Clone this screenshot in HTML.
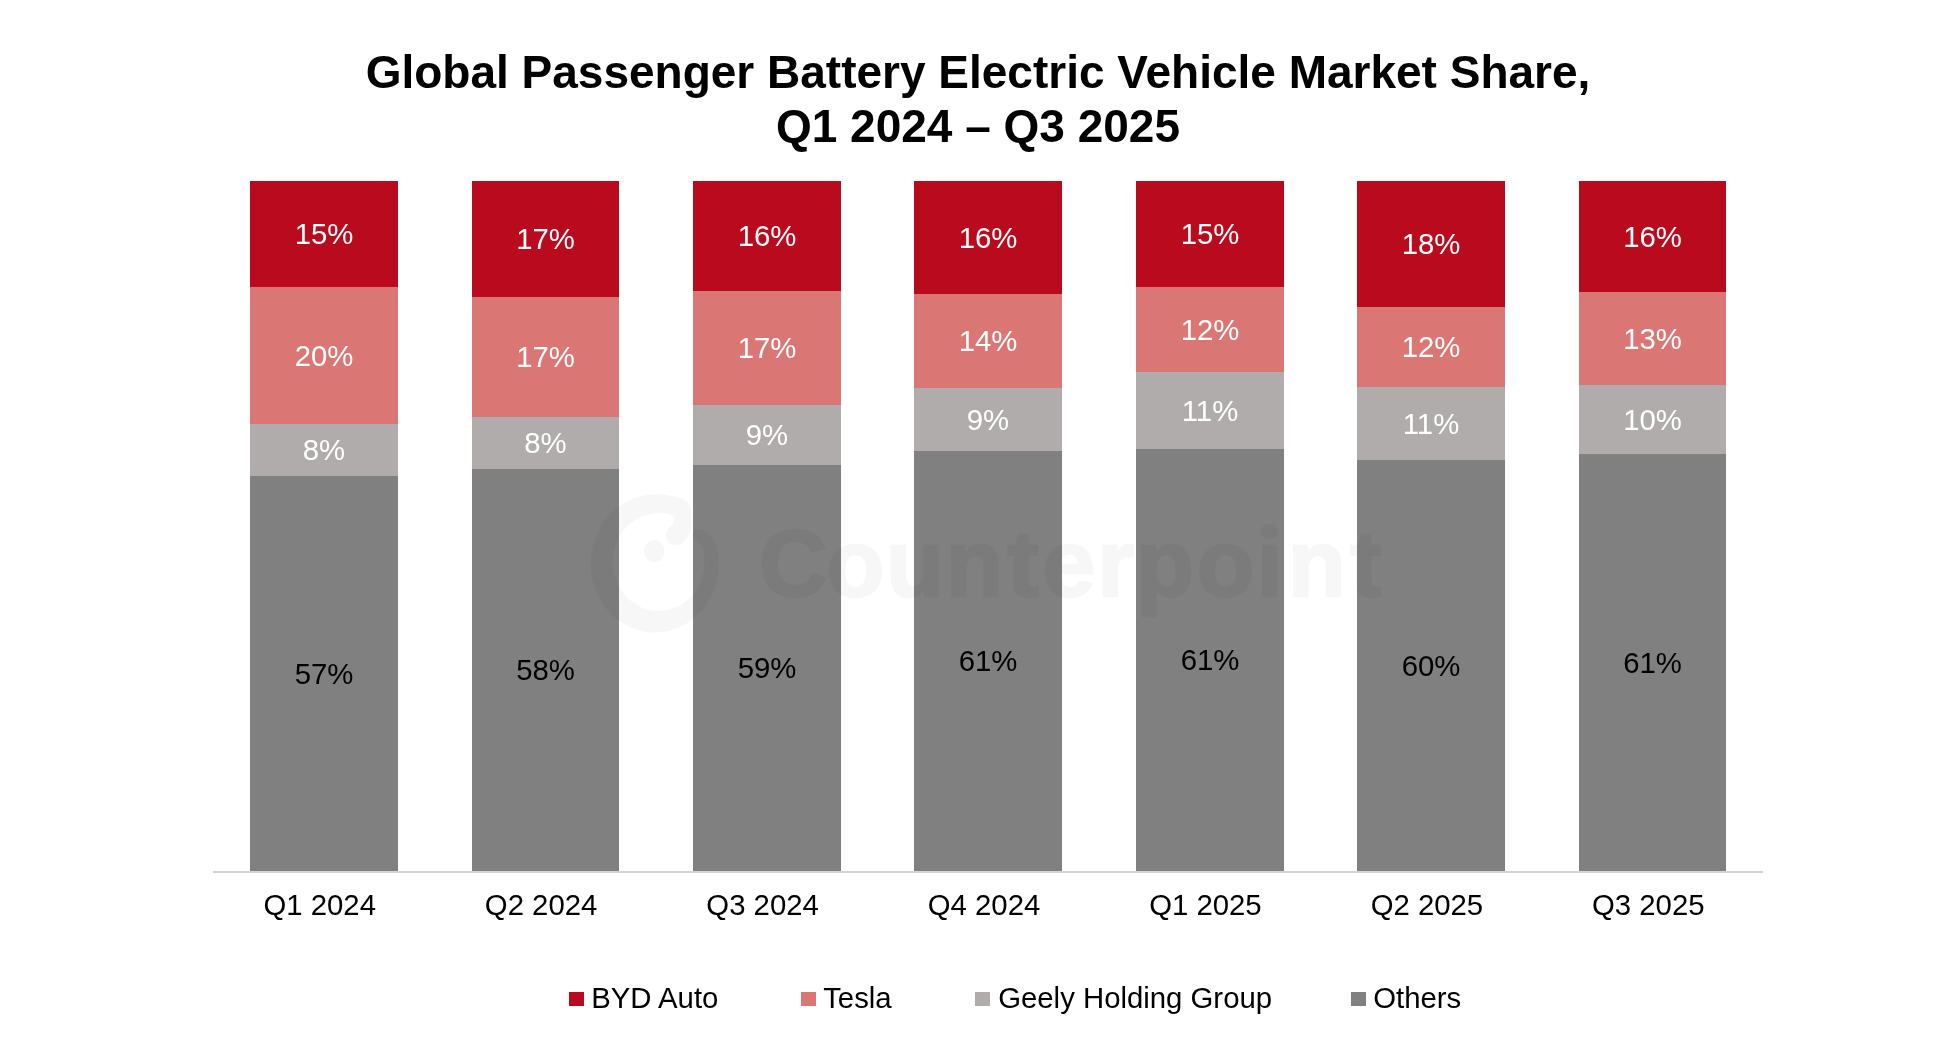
<!DOCTYPE html>
<html><head><meta charset="utf-8"><style>
html,body{margin:0;padding:0;background:#fff;}
.g{position:absolute;left:0;top:0;width:1946px;height:1052px;will-change:transform;}
body{width:1946px;height:1052px;position:relative;overflow:hidden;font-family:"Liberation Sans",Arial,sans-serif;}
.t{position:absolute;left:0;width:1956px;text-align:center;font-weight:bold;font-size:46px;line-height:1;color:#000;white-space:nowrap;}
.s{position:absolute;display:flex;align-items:center;justify-content:center;font-size:29.33px;line-height:1;}
.c{position:absolute;top:890px;width:200px;text-align:center;font-size:29.33px;line-height:1;color:#000;}
.ax{position:absolute;left:213px;top:871px;width:1550px;height:2px;background:#D5D5D5;}
.lg{position:absolute;top:982.8px;font-size:29.33px;line-height:1;color:#000;white-space:nowrap;}
.mk{position:absolute;top:992px;width:15px;height:14px;}
.wm{position:absolute;left:0;top:0;}
</style></head><body><div class="g">
<div class="t" style="top:48.5px">Global Passenger Battery Electric Vehicle Market Share,</div>
<div class="t" style="top:103.3px">Q1 2024 &#8211; Q3 2025</div>
<div class="s" style="left:250px;top:181px;width:148px;height:106px;background:#BA0A1E;color:#fff"><span>15%</span></div><div class="s" style="left:250px;top:287px;width:148px;height:137px;background:#DA7674;color:#fff"><span>20%</span></div><div class="s" style="left:250px;top:424px;width:148px;height:52px;background:#AFACAB;color:#fff"><span>8%</span></div><div class="s" style="left:250px;top:476px;width:148px;height:395px;background:#808080;color:#000"><span>57%</span></div><div class="s" style="left:472px;top:181px;width:147px;height:116px;background:#BA0A1E;color:#fff"><span>17%</span></div><div class="s" style="left:472px;top:297px;width:147px;height:120px;background:#DA7674;color:#fff"><span>17%</span></div><div class="s" style="left:472px;top:417px;width:147px;height:52px;background:#AFACAB;color:#fff"><span>8%</span></div><div class="s" style="left:472px;top:469px;width:147px;height:402px;background:#808080;color:#000"><span>58%</span></div><div class="s" style="left:693px;top:181px;width:148px;height:110px;background:#BA0A1E;color:#fff"><span>16%</span></div><div class="s" style="left:693px;top:291px;width:148px;height:114px;background:#DA7674;color:#fff"><span>17%</span></div><div class="s" style="left:693px;top:405px;width:148px;height:60px;background:#AFACAB;color:#fff"><span>9%</span></div><div class="s" style="left:693px;top:465px;width:148px;height:406px;background:#808080;color:#000"><span>59%</span></div><div class="s" style="left:914px;top:181px;width:148px;height:113px;background:#BA0A1E;color:#fff"><span>16%</span></div><div class="s" style="left:914px;top:294px;width:148px;height:94px;background:#DA7674;color:#fff"><span>14%</span></div><div class="s" style="left:914px;top:388px;width:148px;height:63px;background:#AFACAB;color:#fff"><span>9%</span></div><div class="s" style="left:914px;top:451px;width:148px;height:420px;background:#808080;color:#000"><span>61%</span></div><div class="s" style="left:1136px;top:181px;width:148px;height:106px;background:#BA0A1E;color:#fff"><span>15%</span></div><div class="s" style="left:1136px;top:287px;width:148px;height:85px;background:#DA7674;color:#fff"><span>12%</span></div><div class="s" style="left:1136px;top:372px;width:148px;height:77px;background:#AFACAB;color:#fff"><span>11%</span></div><div class="s" style="left:1136px;top:449px;width:148px;height:422px;background:#808080;color:#000"><span>61%</span></div><div class="s" style="left:1357px;top:181px;width:148px;height:126px;background:#BA0A1E;color:#fff"><span>18%</span></div><div class="s" style="left:1357px;top:307px;width:148px;height:80px;background:#DA7674;color:#fff"><span>12%</span></div><div class="s" style="left:1357px;top:387px;width:148px;height:73px;background:#AFACAB;color:#fff"><span>11%</span></div><div class="s" style="left:1357px;top:460px;width:148px;height:411px;background:#808080;color:#000"><span>60%</span></div><div class="s" style="left:1579px;top:181px;width:147px;height:111px;background:#BA0A1E;color:#fff"><span>16%</span></div><div class="s" style="left:1579px;top:292px;width:147px;height:93px;background:#DA7674;color:#fff"><span>13%</span></div><div class="s" style="left:1579px;top:385px;width:147px;height:69px;background:#AFACAB;color:#fff"><span>10%</span></div><div class="s" style="left:1579px;top:454px;width:147px;height:417px;background:#808080;color:#000"><span>61%</span></div>
<div class="ax"></div>
<div class="c" style="left:219.7px">Q1 2024</div><div class="c" style="left:441.1px">Q2 2024</div><div class="c" style="left:662.6px">Q3 2024</div><div class="c" style="left:884.0px">Q4 2024</div><div class="c" style="left:1105.4px">Q1 2025</div><div class="c" style="left:1326.9px">Q2 2025</div><div class="c" style="left:1548.3px">Q3 2025</div>
<div class="mk" style="left:569px;background:#BA0A1E"></div><div class="lg" style="left:591.2px">BYD Auto</div>
<div class="mk" style="left:801px;background:#DA7674"></div><div class="lg" style="left:823.2px">Tesla</div>
<div class="mk" style="left:975px;background:#AFACAB"></div><div class="lg" style="left:998.2px">Geely Holding Group</div>
<div class="mk" style="left:1351px;background:#808080"></div><div class="lg" style="left:1373.2px">Others</div>
<svg class="wm" width="1946" height="1052" viewBox="0 0 1946 1052">
<defs><clipPath id="ci"><path d="M0,0H1946V1052H0Z M1255,515H1285V542.5H1255Z" clip-rule="evenodd"/></clipPath><clipPath id="cg"><path d="M0,0H1946V1052H0Z M657,563 L674.4,363.8 L854,528.3 Z" clip-rule="evenodd"/></clipPath></defs>
<g opacity="0.032" fill="#000">
<path clip-path="url(#cg)" fill-rule="evenodd" d="M590.5,563.6 a64.2,69 0 1,0 128.4,0 a64.2,69 0 1,0 -128.4,0 Z M613,562 a45.7,49 0 1,0 91.4,0 a45.7,49 0 1,0 -91.4,0 Z"/>
<path d="M655,494.6 C665,494.6 678,496.5 686,501 C690,504 691.8,509 691.8,514 L691.5,526 C691,531 689,536 684,541 C681,544 678,545.3 675,545.3 C671,545.3 667.5,542 666,537 C665,533 667,529.5 670.5,526.5 C673,524 674.3,521 674,518.5 C673.5,515.5 670,513.6 664,513.2 L655,513 Z"/>
<path d="M719,560 L718.2,552 C717.5,546 715,540 710,535 C706,531.5 702,529.2 698,529.2 C695,529.2 692.8,531.5 692.8,534.5 C692.8,537 695,539 698,541.5 C701,544 703,548 703.8,553 L704.2,560 Z"/>
<ellipse cx="654.2" cy="551" rx="10.3" ry="11"/>
<ellipse cx="1269.5" cy="531.6" rx="8.8" ry="8"/>
<g font-family="Liberation Sans, Arial, sans-serif" font-weight="bold" font-size="95" stroke="#000" stroke-width="2.5">
<text clip-path="url(#ci)" x="759.1 826.6 886.0 945.5 1007.3 1042.6 1097.2 1136.1 1196.6 1256.4 1287.8 1350.1" y="596">Counterpoint</text>
</g>
</g>
</svg>
</div></body></html>
